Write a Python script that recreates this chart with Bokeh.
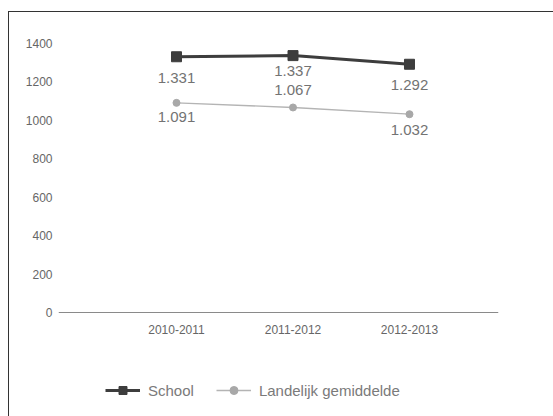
from bokeh.plotting import figure
from bokeh.models import ColumnDataSource, LabelSet, Legend, LegendItem, FixedTicker
from bokeh.core.properties import value
from bokeh.embed import file_html
from bokeh.resources import INLINE

years = ["2010-2011", "2011-2012", "2012-2013"]
school = [1331, 1337, 1292]
landelijk = [1091, 1067, 1032]
y_ticks = [0, 200, 400, 600, 800, 1000, 1200, 1400]

# label placement (style): pixel offsets for each data label
school_off = [-21, -15, -21]
land_off = [-14, 17, -16]

def nl(v):
    return f"{v:,}".replace(",", ".")

xs = list(range(len(years)))
src_s = ColumnDataSource(dict(x=xs, y=school, t=[nl(v) for v in school], o=school_off))
src_l = ColumnDataSource(dict(x=xs, y=landelijk, t=[nl(v) for v in landelijk], o=land_off))

FONT = "Liberation Sans"

p = figure(frame_width=440, frame_height=373, output_backend="svg", toolbar_location=None,
           x_range=(-1.013, 2.764), y_range=(-541.3, 1400),
           min_border_left=49, min_border_right=55, min_border_top=31, min_border_bottom=0,
           styles={"border-left": "1px solid #333", "border-top": "1px solid #333",
                   "margin-top": "11px", "margin-left": "8px"})
p.outline_line_color = None
p.xgrid.grid_line_color = None
p.ygrid.grid_line_color = None

# lines and markers
r_s_line = p.line("x", "y", source=src_s, line_color="#3d3d3d", line_width=3)
r_s_mark = p.scatter("x", "y", source=src_s, marker="square", size=10, fill_color="#3d3d3d", line_color="#3d3d3d")
r_l_line = p.line("x", "y", source=src_l, line_color="#b4b4b4", line_width=1.3)
r_l_mark = p.scatter("x", "y", source=src_l, marker="circle", size=7, fill_color="#a8a8a8", line_color="#a8a8a8")

for src in (src_s, src_l):
    p.add_layout(LabelSet(x="x", y="y", text="t", source=src, y_offset="o",
                          text_align="center", text_baseline="middle",
                          text_font=value(FONT), text_font_size="15px", text_color="#737373"))

# axes
p.xaxis.fixed_location = 0
p.xaxis.ticker = FixedTicker(ticks=xs)
p.xaxis.major_label_overrides = {i: y for i, y in enumerate(years)}
p.xaxis.axis_line_color = "#8a8a8a"
p.xaxis.axis_line_width = 1.2
p.xaxis.major_tick_line_color = None
p.xaxis.minor_tick_line_color = None
p.xaxis.major_label_text_font = FONT
p.xaxis.major_label_text_font_size = "12px"
p.xaxis.major_label_text_color = "#666666"
p.xaxis.major_label_standoff = 7

p.yaxis.ticker = FixedTicker(ticks=y_ticks)
p.yaxis.axis_line_color = None
p.yaxis.major_tick_line_color = None
p.yaxis.minor_tick_line_color = None
p.yaxis.major_label_text_font = FONT
p.yaxis.major_label_text_font_size = "12px"
p.yaxis.major_label_text_color = "#666666"
p.yaxis.major_label_standoff = 0

legend = Legend(items=[LegendItem(label="School", renderers=[r_s_line, r_s_mark]),
                       LegendItem(label="Landelijk gemiddelde", renderers=[r_l_line, r_l_mark])],
                orientation="horizontal", location=(47, 16),
                label_text_font=FONT, label_text_font_size="15px", label_text_color="#7a7a7a",
                border_line_color=None, background_fill_alpha=0,
                spacing=22, glyph_width=35, label_standoff=8, margin=0, padding=0)
p.add_layout(legend, "center")

open("out.html", "w").write(file_html(p, INLINE))
